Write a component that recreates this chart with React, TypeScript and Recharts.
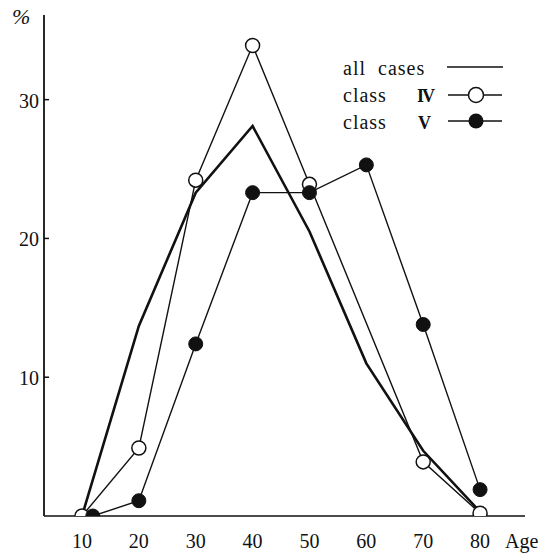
import React from "react";
import { LineChart, Line, XAxis, YAxis } from "recharts";

// age groups (x) and percentages (y)
const ages = [10, 20, 30, 40, 50, 60, 70, 80];
const allCases = [0, 13.7, 23.3, 28.1, 20.5, 11, 4.7, 0.3];
const classIV = [0, 4.9, 24.2, 33.9, 23.9, null, 3.9, 0.2];
// class V first point sits a little right of 10 in the original
const classVAges = [11.9, 20, 30, 40, 50, 60, 70, 80];
const classV = [0, 1.1, 12.4, 23.3, 23.3, 25.3, 13.8, 1.9];

const yTicks = [10, 20, 30];
const xTicks = [10, 20, 30, 40, 50, 60, 70, 80];

const allRows = ages.map((a, i) => ({ x: a, y: allCases[i] }));
const ivRows = ages.map((a, i) => ({ x: a, y: classIV[i] }));
const vRows = classVAges.map((a, i) => ({ x: a, y: classV[i] }));

const FONT = "'Liberation Serif', 'DejaVu Serif', serif";
const INK = "#111";
const txt: React.CSSProperties = { fontFamily: FONT, fontSize: 20 };

const YTick = (props: any) => {
  const { x, y, payload } = props;
  return (
    <g>
      <line x1={x} x2={x + 5} y1={y} y2={y} stroke={INK} strokeWidth={1.5} />
      <text x={x - 5} y={y + 8} textAnchor="end" style={txt} fill={INK}>
        {payload.value}
      </text>
    </g>
  );
};

const XTick = (props: any) => {
  const { x, y, payload } = props;
  return (
    <text x={x} y={y + 32} textAnchor="middle" style={txt} fill={INK}>
      {payload.value}
    </text>
  );
};

const App: React.FC = () => {
  return (
    <div style={{ position: "absolute", left: 0, top: 0, width: 552, height: 560, background: "#fff" }}>
      <LineChart width={552} height={560} margin={{ top: 15, right: 27, bottom: 14, left: 0 }}>
        <XAxis
          dataKey="x"
          type="number"
          domain={[3.32, 87.9]}
          ticks={xTicks}
          allowDataOverflow
          tickLine={false}
          tickSize={0}
          tickMargin={0}
          height={30}
          axisLine={{ stroke: INK, strokeWidth: 1.6 }}
          tick={<XTick />}
        />
        <YAxis
          type="number"
          domain={[0, 36.1]}
          ticks={yTicks}
          allowDataOverflow
          tickLine={false}
          tickSize={0}
          tickMargin={0}
          width={44}
          axisLine={{ stroke: INK, strokeWidth: 1.8 }}
          tick={<YTick />}
        />
        <Line
          data={allRows}
          dataKey="y"
          type="linear"
          stroke={INK}
          strokeWidth={2.6}
          dot={false}
          isAnimationActive={false}
        />
        <Line
          data={ivRows}
          dataKey="y"
          type="linear"
          stroke={INK}
          strokeWidth={1.4}
          connectNulls
          dot={{ r: 7, fill: "#fff", stroke: INK, strokeWidth: 1.5 }}
          isAnimationActive={false}
        />
        <Line
          data={vRows}
          dataKey="y"
          type="linear"
          stroke={INK}
          strokeWidth={1.4}
          dot={{ r: 7, fill: INK, stroke: INK, strokeWidth: 1 }}
          isAnimationActive={false}
        />
      </LineChart>

      {/* axis captions and legend */}
      <svg width={552} height={560} style={{ position: "absolute", left: 0, top: 0, pointerEvents: "none" }}>
        <text x={12} y={24} style={{ ...txt, fontSize: 22, fontStyle: "italic" }} fill={INK}>%</text>
        <text x={505} y={548} style={txt} fill={INK}>Age</text>

        <text x={343} y={75} style={{ ...txt, letterSpacing: 1 }} fill={INK}>
          all<tspan dx={12}>cases</tspan>
        </text>
        <line x1={447} x2={503} y1={67} y2={67} stroke={INK} strokeWidth={1.5} />

        <text x={343} y={102} style={{ ...txt, letterSpacing: 1 }} fill={INK}>class</text>
        <text x={417} y={102} style={{ ...txt, fontSize: 18, fontWeight: "bold", letterSpacing: -2 }} fill={INK}>IV</text>
        <line x1={448} x2={502} y1={95} y2={95} stroke={INK} strokeWidth={1.4} />
        <circle cx={476} cy={95} r={7.5} fill="#fff" stroke={INK} strokeWidth={1.5} />

        <text x={343} y={129} style={{ ...txt, letterSpacing: 1 }} fill={INK}>class</text>
        <text x={418} y={129} style={{ ...txt, fontSize: 18, fontWeight: "bold" }} fill={INK}>V</text>
        <line x1={448} x2={502} y1={121} y2={121} stroke={INK} strokeWidth={1.4} />
        <circle cx={476} cy={121} r={7.5} fill={INK} />
      </svg>
    </div>
  );
};

export default App;
